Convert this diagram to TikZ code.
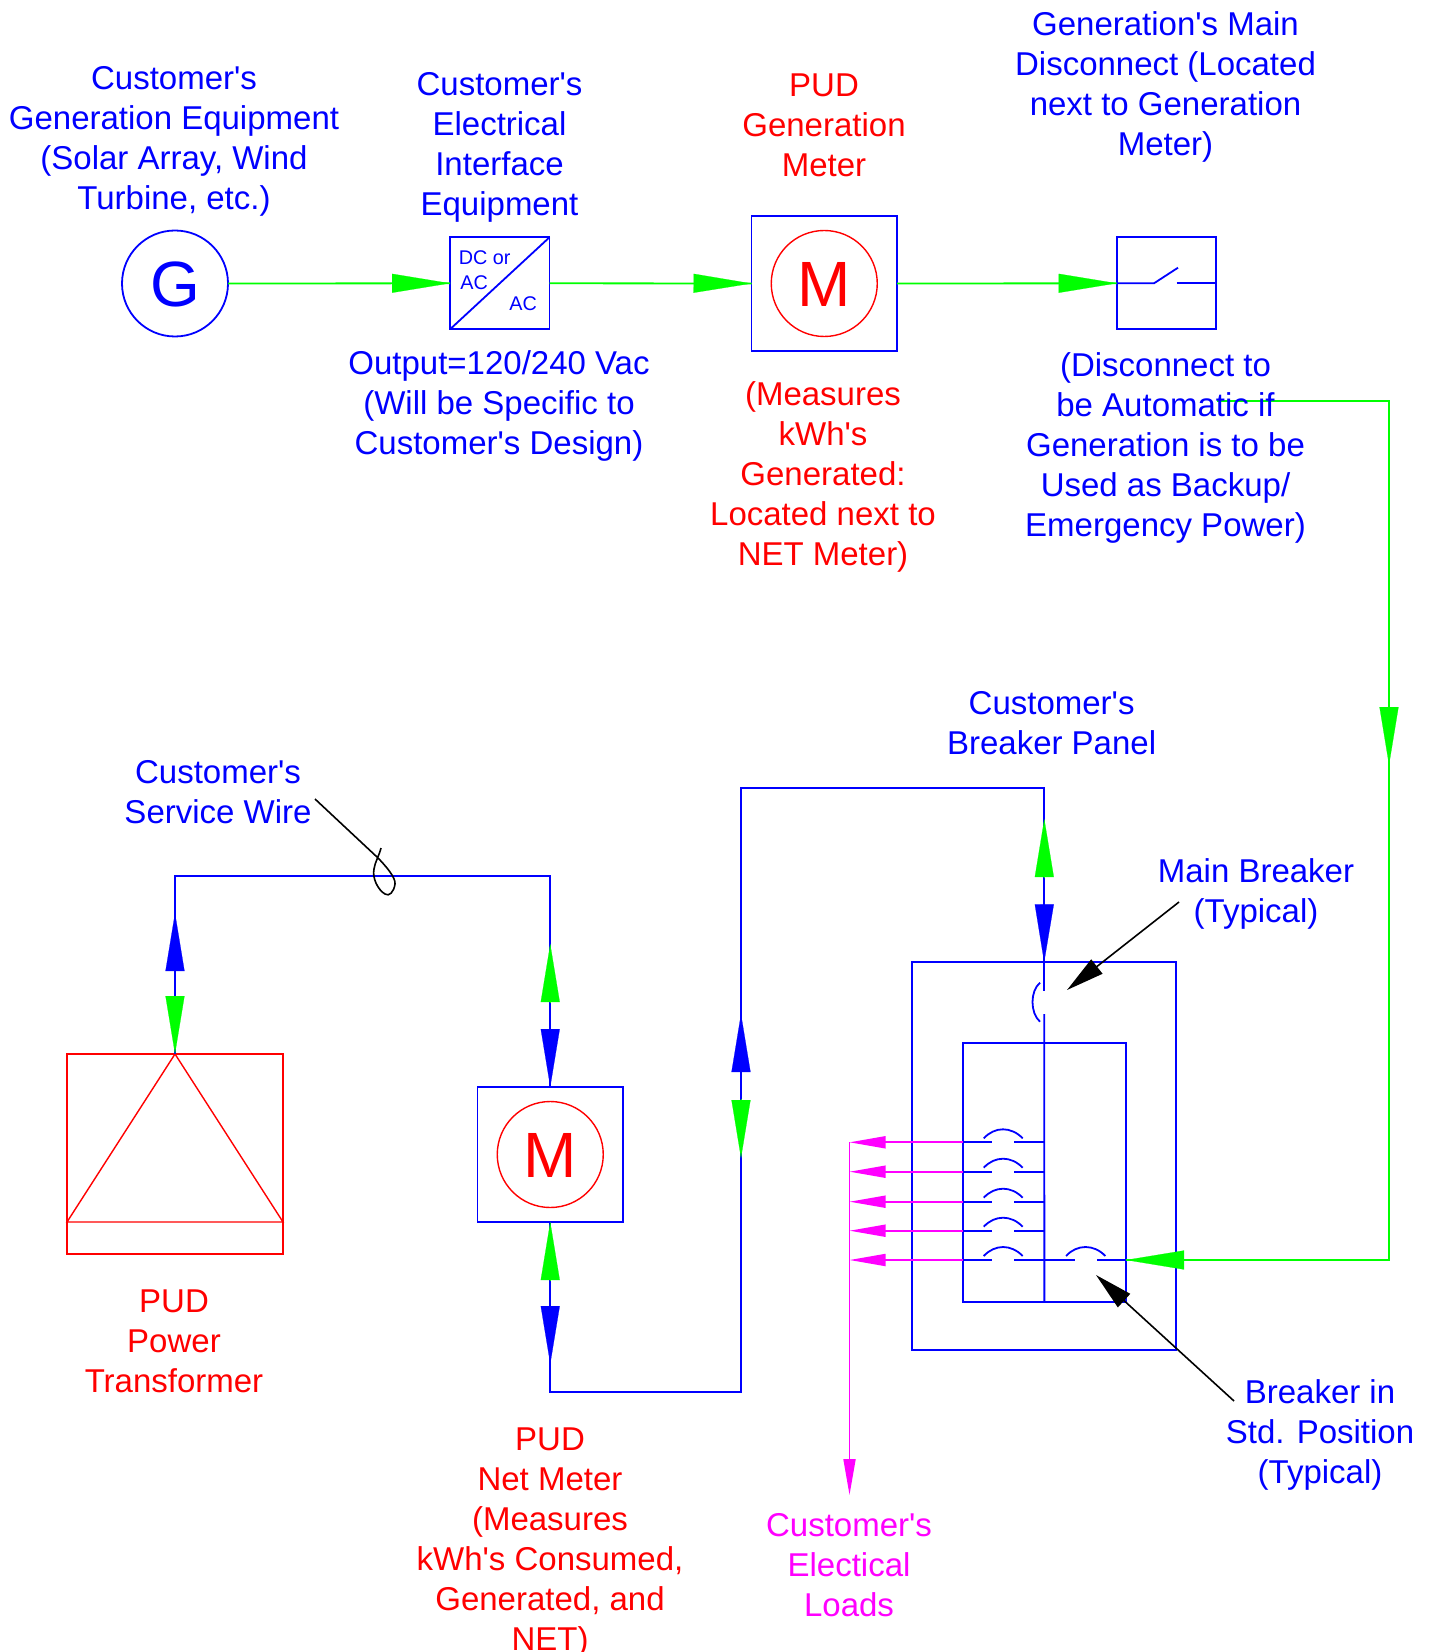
\documentclass[tikz,border=0pt]{standalone}
\usepackage{fontspec}
\newfontfamily\lib{Liberation Sans}
\usetikzlibrary{arrows.meta}
\definecolor{bl}{RGB}{0,0,255}
\definecolor{rd}{RGB}{255,0,0}
\definecolor{gr}{RGB}{0,255,0}
\definecolor{mg}{RGB}{255,0,255}
\tikzset{
  wire/.style={line width=0.9pt,draw=bl},
  redwire/.style={line width=0.7pt,draw=rd},
  gwire/.style={line width=0.9pt,draw=gr},
  mwire/.style={line width=0.9pt,draw=mg},
  leader/.style={line width=0.8pt,draw=black},
  boxb/.style={draw=bl,line width=0.9pt,inner sep=0pt,outer sep=0pt},
  boxr/.style={draw=rd,line width=0.7pt,inner sep=0pt,outer sep=0pt},
  lbl/.style={align=center,font=\lib\fontsize{16.5pt}{20pt}\selectfont,inner sep=0pt},
  lblb/.style={lbl,text=bl},
  lblr/.style={lbl,text=rd},
  lblm/.style={lbl,text=mg},
  small/.style={font=\lib\fontsize{9.9pt}{12pt}\selectfont,text=bl,inner sep=0pt},
  bigl/.style={font=\lib\fontsize{32pt}{36pt}\selectfont,inner sep=0pt},
  ghead/.style={draw=gr,line width=0.1pt,-{Triangle[length=29pt,width=9.5pt,fill=gr]}},
  bhead/.style={draw=bl,line width=0.1pt,-{Triangle[length=29pt,width=9.5pt,fill=bl]}},
  mhead/.style={mwire,-{Triangle[length=18pt,width=6pt,fill=mg]}},
  khead/.style={leader,-{Triangle[length=19pt,width=9pt,fill=black]}},
}
\begin{document}
\begin{tikzpicture}[x=0.5pt,y=-0.5pt]
\useasboundingbox (0,0) rectangle (1432,1652);
% ---- top row nodes
\node[boxb,circle,minimum size=53pt] (gen) at (175,283.5) {};
\node[bigl,text=bl] (genL) at (175,284) {G};
\node[boxb,minimum width=49.75pt,minimum height=46pt] (conv) at (499.75,283.3) {};
\draw[wire] (conv.south west) -- (conv.north east);
\node[small,anchor=west] (dc) at (458.5,258) {DC or};
\node[small,anchor=west] (ac1) at (460,282.5) {AC};
\node[small,anchor=west] (ac2) at (509,304) {AC};
\node[boxb,minimum width=72.75pt,minimum height=67.5pt] (gm) at (824.25,283.5) {};
\node[boxr,circle,minimum size=53pt] (gmc) at (824.25,283.5) {};
\node[bigl,text=rd] (gmL) at (824.25,284) {M};
\node[boxb,minimum width=49.5pt,minimum height=46pt] (disc) at (1166.2,283.3) {};
\coordinate (s1) at (1154,283.3);
\coordinate (s2) at (1178,267.7);
\coordinate (s3) at (1176.7,283.3);
\draw[wire] (disc.west) -- (s1) -- (s2);
\draw[wire] (s3) -- (disc.east);
% ---- top row connectors
\draw[gwire] (gen.east) -- (conv.west);
\draw[gwire] (conv.east) -- (gm.west);
\draw[gwire] (gm.east) -- (disc.west);
\coordinate (h1) at (392,283.3);
\coordinate (h2) at (693,283.3);
\coordinate (h3) at (1058,283.3);
\draw[ghead] (h1) -- (conv.west);
\draw[ghead] (h2) -- (gm.west);
\draw[ghead] (h3) -- (disc.west);
% ---- lower nodes
\node[boxr,minimum width=108pt,minimum height=100pt] (xf) at (175,1154) {};
\coordinate (xfl) at (67,1222);
\coordinate (xfr) at (283,1222);
\draw[redwire] (xfl) -- (xfr) -- (xf.north) -- cycle;
\node[boxb,minimum width=72.75pt,minimum height=67.5pt] (nm) at (550.25,1154.5) {};
\node[boxr,circle,minimum size=53pt] (nmc) at (550.25,1154.5) {};
\node[bigl,text=rd] (nmL) at (550.25,1155) {M};
\node[boxb,minimum width=131.85pt,minimum height=194pt] (panel) at (1044.15,1156.3) {};
\node[boxb,minimum width=81.65pt,minimum height=129.65pt] (inner) at (1044.35,1172.65) {};
% ---- wires
\coordinate (w1) at (175,875.6);
\coordinate (w2) at (550.25,875.6);
\draw[wire] (xf.north) -- (w1) -- (w2) -- (nm.north);
\coordinate (w3) at (550.25,1392);
\coordinate (w4) at (741,1392);
\coordinate (w5) at (741,788);
\coordinate (w6) at (1044.3,788);
\coordinate (w7) at (1044.3,991);
\coordinate (w8) at (1044.3,1014);
\draw[wire] (nm.south) -- (w3) -- (w4) -- (w5) -- (w6) -- (w7);
\draw[wire] (w8) -- (inner.south);
% ---- double heads
\coordinate (a1) at (175,971);
\coordinate (a1t) at (175,913);
\coordinate (a2) at (175,996);
\draw[bhead] (a1) -- (a1t);
\draw[ghead] (a2) -- (xf.north);
\coordinate (b1) at (550.25,1003);
\coordinate (b1t) at (550.25,944);
\coordinate (b2) at (550.25,1029.5);
\draw[ghead] (b1) -- (b1t);
\draw[bhead] (b2) -- (nm.north);
\coordinate (c1) at (550.25,1280);
\coordinate (c2) at (550.25,1305);
\coordinate (c2t) at (550.25,1364);
\draw[ghead] (c1) -- (nm.south);
\draw[bhead] (c2) -- (c2t);
\coordinate (d1) at (741,1072);
\coordinate (d1t) at (741,1014);
\coordinate (d2) at (741,1099);
\coordinate (d2t) at (741,1158);
\draw[bhead] (d1) -- (d1t);
\draw[ghead] (d2) -- (d2t);
\coordinate (e1) at (1044.3,877);
\coordinate (e1t) at (1044.3,819);
\coordinate (e2) at (1044.3,903);
\draw[ghead] (e1) -- (e1t);
\draw[bhead] (e2) -- (panel.north);
% ---- main breaker
\coordinate (mb1) at (1040,982.7);
\coordinate (mb3) at (1040,1021.7);
\draw[wire] (mb1) .. controls (1030,991) and (1030,1013) .. (mb3);
% ---- branch breakers
\foreach \n/\y in {1/1142.3,2/1171.7,3/1201.7,4/1230.7,5/1260}{
  \coordinate (bL\n) at (962.7,\y);
  \coordinate (bA\n) at (992.3,\y);
  \coordinate (bB\n) at (1014.3,\y);
  \coordinate (bR\n) at (1044.3,\y);
  \coordinate (bM\n) at (849.5,\y);
  \draw[wire] (bL\n) -- (bA\n);
  \draw[wire] (bB\n) -- (bR\n);
  \draw[wire] (983.7,\y-4) .. controls (995,\y-16) and (1011,\y-16) .. (1022.7,\y-4);
  \draw[mhead] (bL\n) -- (bM\n);
}
\coordinate (rA) at (1075,1260);
\coordinate (rB) at (1097,1260);
\coordinate (rR) at (1126,1260);
\draw[wire] (bR5) -- (rA);
\draw[wire] (rB) -- (rR);
\draw[wire] (1066,1256) .. controls (1077,1244) and (1094,1244) .. (1105.3,1256);
% ---- loads
\coordinate (lt) at (849.5,1495);
\draw[mhead] (bM1) -- (lt);
% ---- backfeed green
\coordinate (f1) at (1217,401);
\coordinate (f2) at (1389,401);
\coordinate (f3) at (1389,1260);
\coordinate (f4) at (1389,706);
\coordinate (f4t) at (1389,765);
\coordinate (f5) at (1185,1260);
\draw[gwire] (f1) -- (f2) -- (f3) -- (rR);
\draw[ghead] (f4) -- (f4t);
\draw[ghead] (f5) -- (rR);
% ---- leaders
\coordinate (l1) at (315,799);
\coordinate (l2) at (377,857);
\draw[leader] (l1) -- (l2) .. controls (386,866) and (396,878) .. (395,884) .. controls (394,892) and (389,897) .. (385,894) .. controls (378,890) and (372,878) .. (374,869) .. controls (375,862) and (379,856) .. (381,848);
\coordinate (m1) at (1179,902);
\coordinate (m2) at (1067,990);
\draw[khead] (m1) -- (m2);
\coordinate (n1) at (1234,1401);
\coordinate (n2) at (1096,1275);
\draw[khead] (n1) -- (n2);
% ---- labels
\node[lblb] (t1) at (174,141.2) {Customer's\\Generation Equipment\\(Solar Array, Wind\\Turbine, etc.)};
\node[lblb] (t2) at (499.5,147.5) {Customer's\\Electrical\\Interface\\Equipment};
\node[lblr] (t3) at (824,125.5) {PUD\\Generation\\Meter};
\node[lblb] (t4) at (1165.5,87.2) {Generation's Main\\Disconnect (Located\\next to Generation\\Meter)};
\node[lblb] (t5) at (499,405.5) {Output=120/240 Vac\\(Will be Specific to\\Customer's Design)};
\node[lblr] (t6) at (823,476.6) {(Measures\\kWh's\\Generated:\\Located next to\\NET Meter)};
\node[lblb] (t7) at (1165.5,447.7) {(Disconnect to\\be Automatic if\\Generation is to be\\Used as Backup/\\Emergency Power)};
\node[lblb] (t8) at (1051.6,723) {Customer's\\Breaker Panel};
\node[lblb] (t9) at (218,792.4) {Customer's\\Service Wire};
\node[lblb] (t10) at (1256,894.4) {Main Breaker\\(Typical)};
\node[lblr] (t11) at (174,1341.5) {PUD\\Power\\Transformer};
\node[lblr] (t12) at (550,1542.6) {PUD\\Net Meter\\(Measures\\kWh's Consumed,\\Generated, and\\NET)};
\node[lblm] (t13) at (849,1565) {Customer's\\Electical\\Loads};
\node[lblb] (t14) at (1320,1435) {Breaker in\\Std. Position\\(Typical)};
\end{tikzpicture}
\end{document}
